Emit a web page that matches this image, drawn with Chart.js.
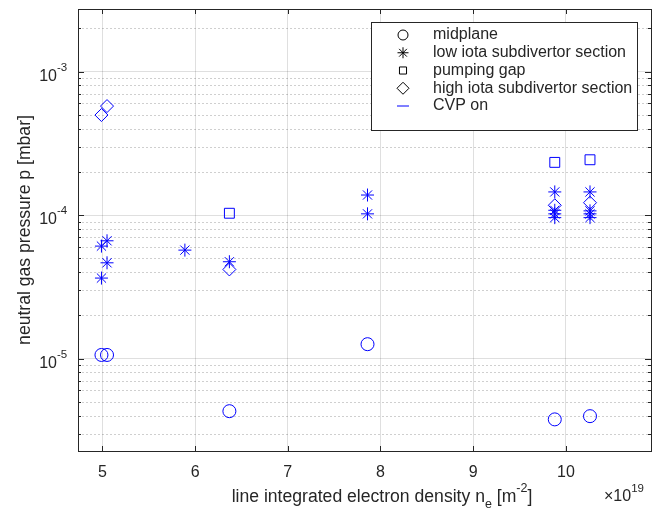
<!DOCTYPE html>
<html>
<head>
<meta charset="utf-8">
<script src="https://cdn.jsdelivr.net/npm/chart.js@4.4.1/dist/chart.umd.min.js"></script>
<style>
  body { margin: 0; background: #fff; }
  #wrap { width: 671px; height: 519px; }
</style>
</head>
<body>
<div id="wrap"><canvas id="chart"></canvas></div>
<script>
// axis ranges and ticks
const xMin = 4.737, xMax = 10.918;
const yMin = 2.27e-6, yMax = 2.73e-3;
const xTicks = [5, 6, 7, 8, 9, 10];
const yDecades = [1e-5, 1e-4, 1e-3];
const yExponents = ["-5", "-4", "-3"];

// series (x in 1e19 m^-2, y in mbar)
const midX = [4.99, 5.05, 6.37, 7.86, 9.88, 10.26];
const midY = [1.06e-5, 1.06e-5, 4.3e-6, 1.26e-5, 3.77e-6, 3.97e-6];

const lowX = [4.99, 5.05, 5.05, 4.99, 5.89, 6.37, 7.86, 7.86, 9.88, 9.88, 9.88, 9.88, 10.26, 10.26, 10.26, 10.26];
const lowY = [6.08e-5, 6.62e-5, 4.65e-5, 3.64e-5, 5.7e-5, 4.73e-5, 1.38e-4, 1.02e-4, 1.45e-4, 1.08e-4, 1.02e-4, 9.6e-5, 1.45e-4, 1.07e-4, 1.02e-4, 9.6e-5];

const gapX = [6.37, 9.88, 10.26];
const gapY = [1.03e-4, 2.33e-4, 2.43e-4];

const highX = [4.99, 5.05, 6.37, 9.88, 10.26];
const highY = [4.98e-4, 5.75e-4, 4.18e-5, 1.17e-4, 1.22e-4];

const cvpX = [];
const cvpY = [];

const ink = "#262626";
const blue = "#0000ff";
const fam = '"Liberation Sans", Arial, sans-serif';

function pts(xs, ys) {
  return xs.map((x, i) => ({ x: x, y: ys[i] }));
}

function minorValues() {
  const out = [];
  for (let e = -6; e <= -3; e++) {
    for (let m = 2; m <= 9; m++) {
      const v = m * Math.pow(10, e);
      if (v > yMin && v < yMax) out.push(v);
    }
  }
  return out;
}

// legend look (black markers like the original)
const legendMarks = [
  { pointStyle: "circle", radius: 5 },
  { pointStyle: "star", radius: 5.5 },
  { pointStyle: "rect", radius: 5 },
  { pointStyle: "rectRot", radius: 6 },
  { pointStyle: "line", radius: 6 }
];

const decor = {
  id: "decor",
  beforeDraw(chart) {
    const c = chart.ctx;
    c.save();
    c.fillStyle = "#fff";
    c.fillRect(0, 0, chart.width, chart.height);
    c.restore();
  },
  beforeDatasetsDraw(chart) {
    const { ctx: c, chartArea: a, scales: { y } } = chart;
    c.save();
    c.strokeStyle = "rgba(38,38,38,0.22)";
    c.lineWidth = 1;
    c.setLineDash([2, 2]);
    minorValues().forEach(v => {
      const py = Math.round(y.getPixelForValue(v)) + 0.5;
      c.beginPath();
      c.moveTo(a.left, py);
      c.lineTo(a.right, py);
      c.stroke();
    });
    c.restore();
  },
  afterDatasetsDraw(chart) {
    const { ctx: c, chartArea: a, scales: { x, y } } = chart;
    c.save();
    c.strokeStyle = ink;
    c.lineWidth = 1;
    c.strokeRect(Math.round(a.left) + 0.5, Math.round(a.top) + 0.5,
      Math.round(a.right - a.left), Math.round(a.bottom - a.top));
    c.beginPath();
    xTicks.forEach(v => {
      const px = Math.round(x.getPixelForValue(v)) + 0.5;
      c.moveTo(px, a.bottom); c.lineTo(px, a.bottom - 5);
      c.moveTo(px, a.top); c.lineTo(px, a.top + 5);
    });
    yDecades.forEach(v => {
      const py = Math.round(y.getPixelForValue(v)) + 0.5;
      c.moveTo(a.left, py); c.lineTo(a.left + 6, py);
      c.moveTo(a.right, py); c.lineTo(a.right - 6, py);
    });
    minorValues().forEach(v => {
      const py = Math.round(y.getPixelForValue(v)) + 0.5;
      c.moveTo(a.left, py); c.lineTo(a.left + 3, py);
      c.moveTo(a.right, py); c.lineTo(a.right - 3, py);
    });
    c.stroke();
    c.restore();
  },
  afterDraw(chart) {
    const { ctx: c, chartArea: a, scales: { y } } = chart;
    c.save();
    c.fillStyle = ink;

    // y tick labels 10^n
    yDecades.forEach((v, i) => {
      const py = y.getPixelForValue(v);
      c.font = "16px " + fam;
      c.textAlign = "right";
      c.textBaseline = "middle";
      c.fillText("10", 57, py + 5);
      c.font = "11.5px " + fam;
      c.textAlign = "left";
      c.fillText(yExponents[i], 57, py - 4);
    });

    // y title
    c.save();
    c.translate(25, (a.top + a.bottom) / 2);
    c.rotate(-Math.PI / 2);
    c.font = "17.6px " + fam;
    c.textAlign = "center";
    c.textBaseline = "middle";
    c.fillText("neutral gas pressure p [mbar]", 0, 0);
    c.restore();

    // x title with sub/superscript
    const big = "17.6px " + fam, small = "12.5px " + fam;
    const parts = [
      ["line integrated electron density n", big, 0],
      ["e", small, 8],
      [" [m", big, 0],
      ["-2", small, -8],
      ["]", big, 0]
    ];
    c.textAlign = "left";
    c.textBaseline = "middle";
    let total = 0;
    parts.forEach(p => { c.font = p[1]; total += c.measureText(p[0]).width; });
    let px = 382 - total / 2;
    parts.forEach(p => {
      c.font = p[1];
      c.fillText(p[0], px, 497 + p[2]);
      px += c.measureText(p[0]).width;
    });

    // exponent factor
    c.font = "16px " + fam;
    c.fillText("\u00d710", 604, 497);
    const w = c.measureText("\u00d710").width;
    c.font = "11.5px " + fam;
    c.fillText("19", 604 + w, 489);

    // legend
    const bx = 371.5, by = 22.5, bw = 266, bh = 108;
    c.fillStyle = "#fff";
    c.fillRect(bx, by, bw, bh);
    c.strokeStyle = ink;
    c.lineWidth = 1;
    c.strokeRect(bx, by, bw, bh);
    chart.data.datasets.forEach((ds, i) => {
      const ry = 35 + i * 17.75;
      const m = legendMarks[i];
      c.save();
      c.fillStyle = "rgba(0,0,0,0)";
      c.strokeStyle = i === 4 ? blue : "#000";
      c.lineWidth = 1;
      Chart.helpers.drawPoint(c, { pointStyle: m.pointStyle, radius: m.radius, rotation: 0, borderWidth: 1 }, 403, ry);
      c.restore();
      c.fillStyle = ink;
      c.font = "16px " + fam;
      c.textAlign = "left";
      c.textBaseline = "middle";
      c.fillText(ds.label, 433, ry);
    });
    c.restore();
  }
};

function series(label, xs, ys, style, r) {
  return {
    label: label,
    data: pts(xs, ys),
    pointStyle: style,
    pointRadius: r,
    pointHoverRadius: r,
    pointBorderWidth: 1,
    pointBorderColor: blue,
    pointBackgroundColor: "rgba(0,0,0,0)",
    showLine: false
  };
}

new Chart(document.getElementById("chart"), {
  type: "scatter",
  data: {
    datasets: [
      series("midplane", midX, midY, "circle", 6.5),
      series("low iota subdivertor section", lowX, lowY, "star", 6.5),
      series("pumping gap", gapX, gapY, "rect", 7),
      series("high iota subdivertor section", highX, highY, "rectRot", 6.5),
      Object.assign(series("CVP on", cvpX, cvpY, "line", 6), { showLine: true, borderColor: blue, borderWidth: 1 })
    ]
  },
  options: {
    responsive: true,
    maintainAspectRatio: false,
    animation: false,
    layout: { padding: { top: 9, right: 20, left: 0, bottom: 0 } },
    plugins: {
      legend: { display: false },
      tooltip: { enabled: false }
    },
    scales: {
      x: {
        type: "linear",
        min: xMin,
        max: xMax,
        afterBuildTicks: s => { s.ticks = xTicks.map(v => ({ value: v })); },
        afterFit: s => { s.height = 68; },
        grid: { color: "rgba(38,38,38,0.15)", drawTicks: false },
        border: { display: false },
        ticks: { color: ink, font: { family: fam, size: 16 }, padding: 12, maxRotation: 0 }
      },
      y: {
        type: "logarithmic",
        min: yMin,
        max: yMax,
        afterBuildTicks: s => { s.ticks = yDecades.map(v => ({ value: v })); },
        afterFit: s => { s.width = 78; },
        grid: { color: "rgba(38,38,38,0.15)", drawTicks: false },
        border: { display: false },
        ticks: { display: false }
      }
    }
  },
  plugins: [decor]
});
</script>
</body>
</html>
